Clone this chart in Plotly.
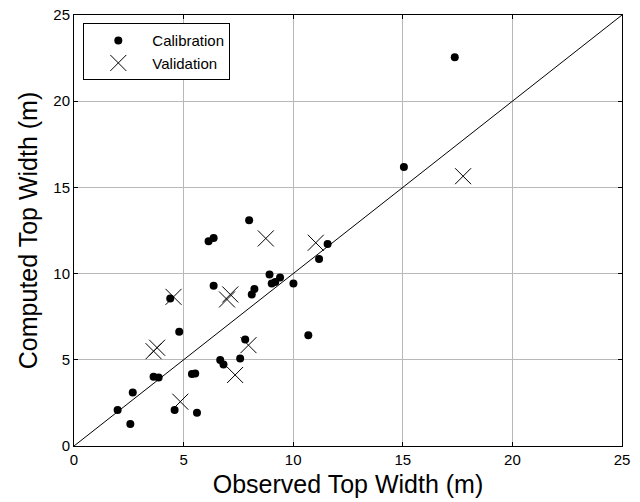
import plotly.graph_objects as go

cal_x = [17.37, 15.05, 7.99, 6.14, 6.37, 11.57, 11.18, 8.92, 6.37, 9.40, 9.18, 9.02, 10.01,
         8.23, 8.11, 4.39, 4.80, 3.63, 3.86, 2.68, 1.99, 2.57, 4.59, 5.61, 5.38, 5.53,
         6.67, 6.82, 7.58, 7.81, 10.69]
cal_y = [22.55, 16.19, 13.10, 11.88, 12.07, 11.71, 10.84, 9.95, 9.29, 9.78, 9.52, 9.43, 9.43,
         9.10, 8.79, 8.56, 6.63, 4.02, 3.98, 3.11, 2.09, 1.28, 2.09, 1.93, 4.17, 4.21,
         4.99, 4.73, 5.08, 6.18, 6.43]

val_x = [17.75, 8.75, 11.03, 7.13, 6.98, 4.54, 3.79, 3.63, 4.85, 7.35, 7.96]
val_y = [15.65, 12.04, 11.79, 8.79, 8.50, 8.65, 5.70, 5.50, 2.57, 4.12, 5.85]

line_x = [0, 25]
line_y = [0, 25]

x_ticks = [0, 5, 10, 15, 20, 25]
y_ticks = [0, 5, 10, 15, 20, 25]

FONT = "Liberation Sans, Arial, sans-serif"

fig = go.Figure()
fig.add_trace(go.Scatter(x=line_x, y=line_y, mode="lines",
                         line=dict(color="black", width=1), showlegend=False))
fig.add_trace(go.Scatter(x=cal_x, y=cal_y, mode="markers", name="Calibration",
                         marker=dict(symbol="circle", size=8, color="black")))
fig.add_trace(go.Scatter(x=val_x, y=val_y, mode="markers", name="Validation",
                         marker=dict(symbol="x-thin", size=16, color="black",
                                     line=dict(color="black", width=1))))

axis_common = dict(
    range=[0, 25], showgrid=True, gridcolor="#b8b8b8", gridwidth=1,
    showline=True, linecolor="black", linewidth=1, mirror="ticks",
    ticks="inside", ticklen=4, tickcolor="black", zeroline=False,
    automargin=False,
    tickfont=dict(family=FONT, size=15, color="black"),
)

fig.update_layout(
    width=640, height=502,
    margin=dict(l=74, r=18, t=15, b=56),
    paper_bgcolor="white", plot_bgcolor="white",
    font=dict(family=FONT, color="black"),
    xaxis=dict(**axis_common, tickvals=x_ticks,
               title=dict(text="Observed Top Width (m)", font=dict(size=25), standoff=8)),
    yaxis=dict(**axis_common, tickvals=y_ticks,
               title=dict(text="Computed Top Width (m)", font=dict(size=25), standoff=8)),
    legend=dict(x=0.017, y=0.981, xanchor="left", yanchor="top",
                bgcolor="white", bordercolor="black", borderwidth=1,
                font=dict(family=FONT, size=15), itemwidth=58, tracegroupgap=0),
)

fig.write_html("out.html", config={"displayModeBar": False},
               post_script="document.body.style.margin='0';")
